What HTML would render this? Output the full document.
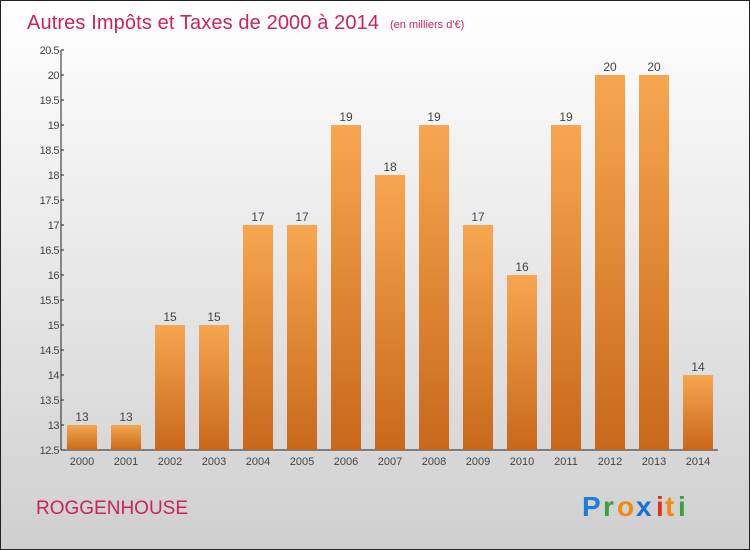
<!DOCTYPE html>
<html><head><meta charset="utf-8"><style>
body{margin:0;}
svg{display:block;font-family:"Liberation Sans",sans-serif;}
</style></head><body>
<svg id="c" width="750" height="550" xmlns="http://www.w3.org/2000/svg">
<defs>
<linearGradient id="bg" x1="0" y1="0" x2="0" y2="1"><stop offset="0" stop-color="#ffffff"/><stop offset="1" stop-color="#cfcfcf"/></linearGradient>
<linearGradient id="bar" x1="0" y1="0" x2="0" y2="1"><stop offset="0" stop-color="#f7a650"/><stop offset="1" stop-color="#c8681c"/></linearGradient>
</defs>
<rect x="0.5" y="0.5" width="749" height="549" fill="url(#bg)" stroke="#222"/>
<text x="27" y="29" font-size="20" fill="#c8245a" textLength="352">Autres Impôts et Taxes de 2000 à 2014</text>
<text x="390" y="28" font-size="11" fill="#c8245a">(en milliers d'€)</text>
<g id="axes"></g>
<g id="bars"></g>
<text x="36" y="514" font-size="19" fill="#c8245a">ROGGENHOUSE</text>
<g font-size="28" font-weight="bold">
<text x="582" y="516" fill="#1a7fd6">P</text><text x="603" y="516" fill="#3aa03a">r</text><text x="617" y="516" fill="#f08a10">o</text><text x="636" y="516" fill="#1a6fd0">x</text><text x="656" y="516" fill="#e03020">i</text><text x="665" y="516" fill="#f08a10">t</text><text x="678" y="516" fill="#3aa03a">i</text>
</g>
</svg>
<script>
const years=["2000","2001","2002","2003","2004","2005","2006","2007","2008","2009","2010","2011","2012","2013","2014"];
const values=[13,13,15,15,17,17,19,18,19,17,16,19,20,20,14];
const ticks=[12.5,13,13.5,14,14.5,15,15.5,16,16.5,17,17.5,18,18.5,19,19.5,20,20.5];
const NS="http://www.w3.org/2000/svg";
const yMin=12.5,yMax=20.5,plotTop=50,plotBot=450,plotLeft=62,step=44,bw=30;
const Y=v=>plotBot-(v-yMin)/(yMax-yMin)*(plotBot-plotTop);
const X=i=>plotLeft+step*i+step/2-2;
function mk(t,a,p){const e=document.createElementNS(NS,t);for(const k in a)e.setAttribute(k,a[k]);p.appendChild(e);return e;}
const ax=document.getElementById('axes'),bg=document.getElementById('bars');
const yl=mk('line',{x1:plotLeft-1,y1:plotTop,x2:plotLeft-1,y2:plotBot,stroke:'#222'},ax);


const xl=mk('line',{x1:plotLeft-1,y1:plotBot,x2:plotLeft+step*years.length-4,y2:plotBot,stroke:'#222'},ax);


ticks.forEach(t=>{const y=Y(t);mk('line',{x1:plotLeft-1,y1:y,x2:plotLeft+2,y2:y,stroke:'#222'},ax);
const tx=mk('text',{x:plotLeft-3,y:y+4,'font-size':11,'text-anchor':'end',fill:'#444','letter-spacing':'-0.5'},ax);tx.textContent=String(t);

});
years.forEach((yr,i)=>{const cx=X(i),v=values[i];
const r=mk('rect',{x:cx-bw/2,y:Y(v),width:bw,height:plotBot-Y(v),fill:'url(#bar)'},bg);


const l=mk('text',{x:cx,y:Y(v)-4,'font-size':12,'text-anchor':'middle',fill:'#444'},bg);l.textContent=String(v);


const xt=mk('text',{x:cx,y:plotBot+15,'font-size':11,'text-anchor':'middle',fill:'#444'},bg);xt.textContent=yr;

});
</script>
</body></html>
